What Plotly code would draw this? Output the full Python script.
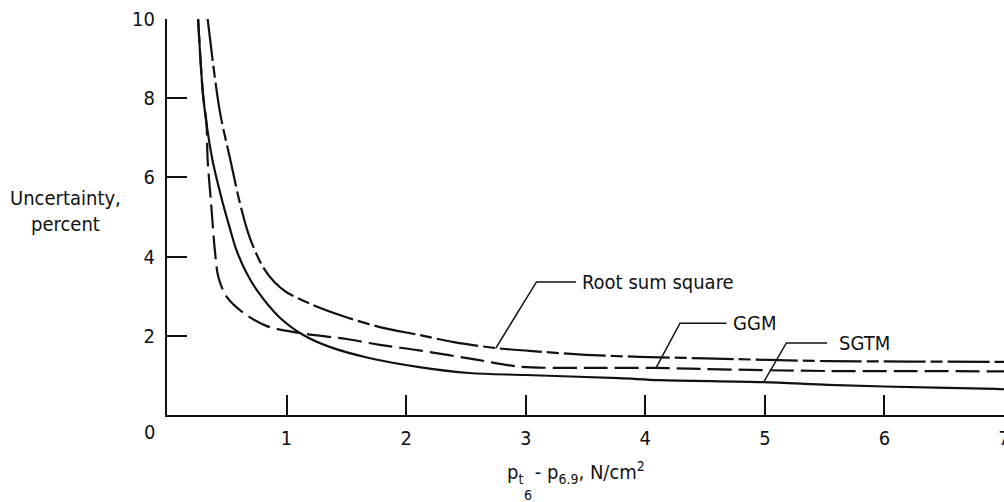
import plotly.graph_objects as go

# ---- data ----
sgtm_x = [0.26, 0.30, 0.33, 0.38, 0.46, 0.53, 0.58, 0.66, 0.75, 0.94, 1.14, 1.36, 1.69, 2.11, 2.53, 3.0, 3.78, 4.12, 4.98, 5.53, 6.0, 6.93, 7.0]
sgtm_y = [10.0, 8.13, 7.37, 6.44, 5.43, 4.67, 4.17, 3.62, 3.16, 2.47, 2.02, 1.72, 1.44, 1.21, 1.06, 1.01, 0.93, 0.88, 0.83, 0.76, 0.72, 0.66, 0.65]

ggm_x = [0.26, 0.30, 0.33, 0.34, 0.37, 0.40, 0.43, 0.50, 0.63, 0.83, 1.11, 1.50, 1.78, 2.11, 2.60, 2.95, 3.5, 4.09, 4.5, 5.53, 6.2, 7.0]
ggm_y = [10.0, 8.13, 7.37, 6.44, 5.30, 4.17, 3.48, 2.98, 2.60, 2.25, 2.07, 1.92, 1.77, 1.63, 1.39, 1.22, 1.19, 1.19, 1.16, 1.11, 1.11, 1.10]

rss_x = [0.34, 0.44, 0.53, 0.61, 0.69, 0.80, 0.90, 1.0, 1.22, 1.50, 1.78, 2.11, 2.40, 2.75, 3.03, 3.5, 3.95, 4.5, 5.53, 6.2, 7.0]
rss_y = [10.0, 7.7, 6.44, 5.35, 4.5, 3.75, 3.35, 3.1, 2.78, 2.47, 2.22, 2.02, 1.84, 1.69, 1.62, 1.52, 1.47, 1.43, 1.36, 1.35, 1.34]

x_ticks = [1, 2, 3, 4, 5, 6, 7]
y_ticks = [2, 4, 6, 8, 10]
curve_labels = ["Root sum square", "GGM", "SGTM"]

FONT = "DejaVu Sans Condensed, Liberation Sans Narrow, DejaVu Sans, sans-serif"
INK = "#111111"
FS = 20

fig = go.Figure()
fig.add_trace(go.Scatter(x=sgtm_x, y=sgtm_y, mode="lines", name="SGTM",
                         line=dict(color=INK, width=2.2, shape="spline", smoothing=0.9)))
fig.add_trace(go.Scatter(x=ggm_x, y=ggm_y, mode="lines", name="GGM",
                         line=dict(color=INK, width=2.2, dash="24px,7px", shape="spline", smoothing=0.9)))
fig.add_trace(go.Scatter(x=rss_x, y=rss_y, mode="lines", name="Root sum square",
                         line=dict(color=INK, width=2.2, dash="42px,5px,12px,5px", shape="spline", smoothing=0.9)))

# leader lines for curve labels
leaders = [
    [(2.75, 1.69), (3.09, 3.36), (3.42, 3.36)],
    [(4.09, 1.19), (4.29, 2.32), (4.68, 2.32)],
    [(4.99, 0.83), (5.18, 1.82), (5.52, 1.82)],
]
label_pos = [(3.45, 3.36), (4.72, 2.32), (5.60, 1.82)]
for pts in leaders:
    path = "M " + " L ".join(f"{px},{py}" for px, py in pts)
    fig.add_shape(type="path", path=path, xref="x", yref="y",
                  line=dict(color=INK, width=1.5))
for txt, (lx, ly) in zip(curve_labels, label_pos):
    fig.add_annotation(x=lx, y=ly, xref="x", yref="y", text=txt, showarrow=False,
                       xanchor="left", yanchor="middle", font=dict(size=FS, color=INK, family=FONT))

# origin label
fig.add_annotation(x=-0.021, y=-0.043, xref="paper", yref="paper", text="0", showarrow=False,
                   xanchor="center", yanchor="middle", font=dict(size=FS, color=INK, family=FONT))

# y-axis title
fig.add_annotation(x=-0.1207, y=5.15, xref="paper", yref="y", text="Uncertainty,<br>percent",
                   showarrow=False, xanchor="center", yanchor="middle", align="center",
                   font=dict(size=FS, color=INK, family=FONT))

# x-axis title
fig.add_annotation(x=2.83, y=-0.146, xref="x", yref="paper",
                   text="p<sub>t</sub>  - p<sub>6.9</sub>, N/cm<sup>2</sup>",
                   showarrow=False, xanchor="left", yanchor="middle",
                   font=dict(size=FS, color=INK, family=FONT))
fig.add_annotation(x=3.02, y=-0.203, xref="x", yref="paper", text="6",
                   showarrow=False, xanchor="center", yanchor="middle",
                   font=dict(size=14, color=INK, family=FONT))

fig.update_xaxes(range=[0, 7], tickvals=x_ticks, ticktext=[str(v) for v in x_ticks],
                 showline=True, linecolor=INK, linewidth=2, ticks="inside", ticklen=20,
                 tickwidth=1.5, tickcolor=INK, showgrid=False, zeroline=False, automargin=False,
                 ticklabeloverflow="allow",
                 ticklabelstandoff=4, tickfont=dict(size=FS, color=INK, family=FONT))
fig.update_yaxes(range=[0, 10], tickvals=y_ticks, ticktext=[str(v) for v in y_ticks],
                 showline=True, linecolor=INK, linewidth=2, ticks="inside", ticklen=20,
                 tickwidth=1.5, tickcolor=INK, showgrid=False, zeroline=False, automargin=False,
                 ticklabeloverflow="allow",
                 ticklabelstandoff=6, tickfont=dict(size=FS, color=INK, family=FONT))

fig.update_layout(width=1004, height=502, margin=dict(l=167, r=0, t=19, b=87),
                  paper_bgcolor="white", plot_bgcolor="white", showlegend=False,
                  font=dict(family=FONT, color=INK))

fig.write_html("out.html", config={"displayModeBar": False},
               post_script="document.body.style.margin='0';document.body.style.overflow='hidden';")
